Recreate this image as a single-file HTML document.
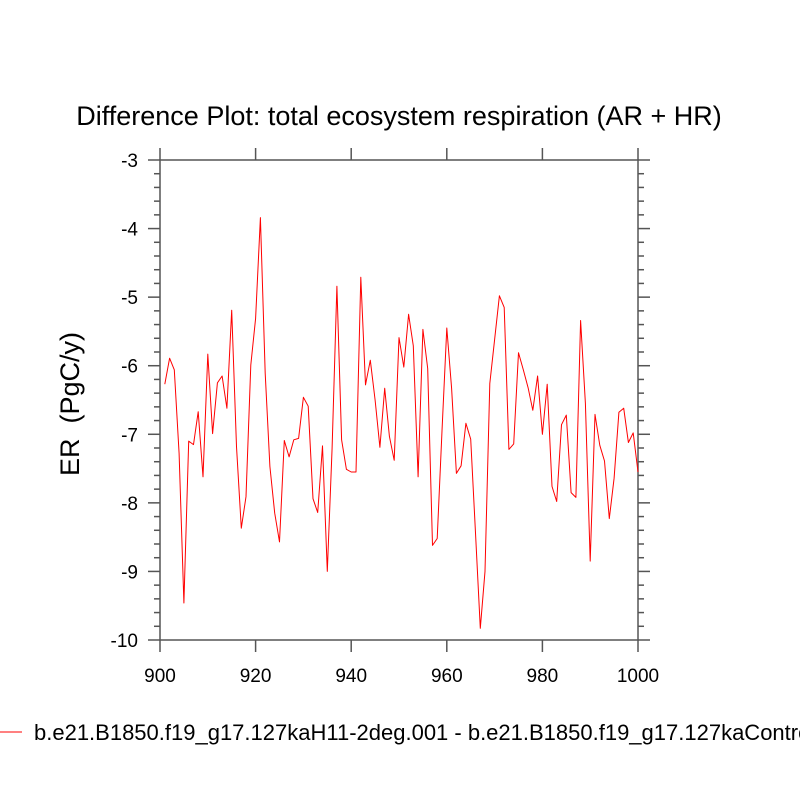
<!DOCTYPE html>
<html><head><meta charset="utf-8"><style>
body{margin:0;background:#fff;}
svg text{font-family:"Liberation Sans",sans-serif;fill:#000;}
</style></head><body>
<svg id="chart" width="800" height="800" xmlns="http://www.w3.org/2000/svg">
<text x="399" y="125" font-size="27" text-anchor="middle">Difference Plot: total ecosystem respiration (AR + HR)</text>
<text transform="translate(79,404) rotate(-90)" font-size="27" text-anchor="middle">ER&#160; (PgC/y)</text>
<g id="axes"></g>
<polyline id="series" fill="none" stroke="#ff0000" stroke-width="1" stroke-linejoin="round"></polyline>
<line x1="0" y1="732" x2="22" y2="732" stroke="#ff0000" stroke-width="1"/>
<text x="34" y="740" font-size="22">b.e21.B1850.f19_g17.127kaH11-2deg.001 - b.e21.B1850.f19_g17.127kaControl</text>
</svg>
<script>
const years = [];
for (let y = 901; y <= 1000; y++) years.push(y);
const values = [-6.27,-5.89,-6.06,-7.28,-9.46,-7.10,-7.15,-6.67,-7.62,-5.83,
-6.99,-6.25,-6.15,-6.62,-5.19,-7.18,-8.37,-7.91,-5.99,-5.31,
-3.84,-6.11,-7.47,-8.15,-8.57,-7.09,-7.33,-7.08,-7.06,-6.46,
-6.59,-7.94,-8.14,-7.17,-9.00,-7.2,-4.84,-7.08,-7.51,-7.55,
-7.55,-4.71,-6.28,-5.92,-6.50,-7.19,-6.33,-7.03,-7.38,-5.59,
-6.02,-5.25,-5.71,-7.62,-5.47,-6.04,-8.62,-8.52,-6.95,-5.45,
-6.33,-7.57,-7.46,-6.84,-7.07,-8.44,-9.83,-9.0,-6.26,-5.62,
-4.98,-5.15,-7.22,-7.14,-5.81,-6.06,-6.32,-6.65,-6.15,-7.00,
-6.27,-7.76,-7.98,-6.86,-6.72,-7.85,-7.92,-5.34,-6.55,-8.85,
-6.71,-7.16,-7.39,-8.23,-7.64,-6.68,-6.62,-7.12,-6.98,-7.55];
const xTicks = [900,920,940,960,980,1000];
const yTicks = [-3,-4,-5,-6,-7,-8,-9,-10];
const L=160,R=638,T=160,B=640,X0=900,X1=1000,Y0=-10,Y1=-3;
const sx=v=>L+(v-X0)/(X1-X0)*(R-L);
const sy=v=>B-(v-Y0)/(Y1-Y0)*(B-T);
const NS="http://www.w3.org/2000/svg";
const axes=document.getElementById('axes');
function ln(x1,y1,x2,y2,name){const e=document.createElementNS(NS,'line');
e.setAttribute('x1',x1);e.setAttribute('y1',y1);e.setAttribute('x2',x2);e.setAttribute('y2',y2);
e.setAttribute('stroke','#555');e.setAttribute('stroke-width','1.5');


axes.appendChild(e);return e;}
function tx(x,y,s,anchor,name){const e=document.createElementNS(NS,'text');
e.setAttribute('x',x);e.setAttribute('y',y);e.setAttribute('font-size','19');e.setAttribute('text-anchor',anchor);e.textContent=s;


axes.appendChild(e);}
const box=document.createElementNS(NS,'rect');
box.setAttribute('x',L);box.setAttribute('y',T);box.setAttribute('width',R-L);box.setAttribute('height',B-T);
box.setAttribute('fill','none');box.setAttribute('stroke','#555');box.setAttribute('stroke-width','1.5');


axes.appendChild(box);
xTicks.forEach(v=>{const x=sx(v);ln(x,B,x,B+12,'x-tick');ln(x,T,x,T-12,'x-tick-top');tx(x,B+42,String(v),'middle','x-tick-label');});
yTicks.forEach(v=>{const y=sy(v);ln(L-12,y,L,y,'y-tick');ln(R,y,R+12,y,'y-tick-right');tx(L-22,y+7,String(v),'end','y-tick-label');});
for(let v=Y0;v<Y1-0.01;v+=1){for(let k=1;k<5;k++){const y=sy(v+k*0.2);ln(L-6,y,L,y,'y-minor-tick');ln(R,y,R+6,y,'y-minor-tick-right');}}
document.getElementById('series').setAttribute('points',years.map((y,i)=>sx(y).toFixed(1)+','+sy(values[i]).toFixed(1)).join(' '));
</script>
</body></html>
